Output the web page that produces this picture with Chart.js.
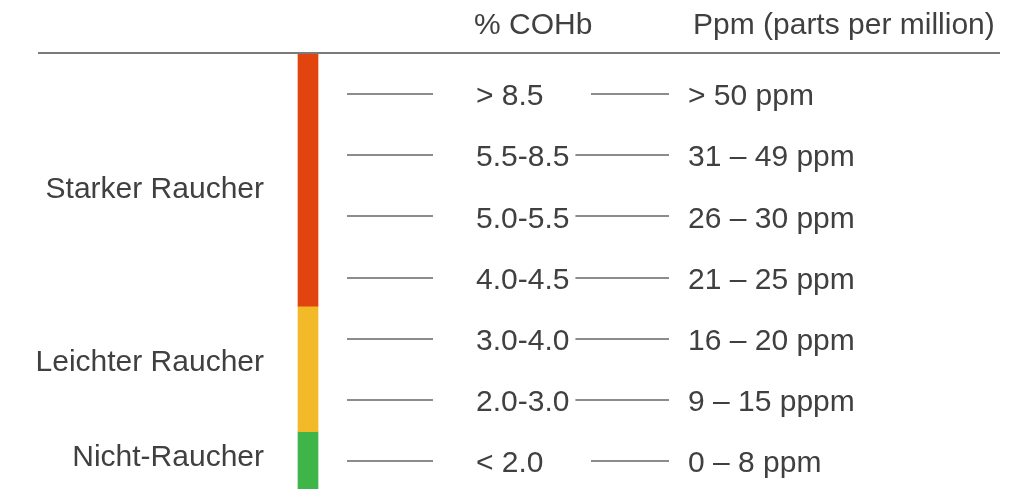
<!DOCTYPE html>
<html>
<head>
<meta charset="utf-8">
<script src="https://cdn.jsdelivr.net/npm/chart.js@4/dist/chart.umd.min.js"></script>
<style>
  html, body { margin: 0; padding: 0; background: #ffffff; }
  #wrap { width: 1029px; height: 489px; }
</style>
</head>
<body>
<div id="wrap"><canvas id="chart" width="1029" height="489"></canvas></div>
<script>
// rows of the table, top to bottom
const cohbLabels = ["> 8.5", "5.5-8.5", "5.0-5.5", "4.0-4.5", "3.0-4.0", "2.0-3.0", "< 2.0"];
const ppmLabels = ["> 50 ppm", "31 – 49 ppm", "26 – 30 ppm", "21 – 25 ppm", "16 – 20 ppm", "9 – 15 pppm", "0 – 8 ppm"];
const headerLabels = ["% COHb", "Ppm (parts per million)"];

// smoker groups and their band on the colour bar (in row units)
const groupLabels = ["Starker Raucher", "Leichter Raucher", "Nicht-Raucher"];
const groupLabelRow = [1.54, 4.37, 5.92];
const bandStart = [-0.69, 3.45, 5.5];
const bandEnd = [3.45, 5.5, 6.45];
const bandColors = ["#e2440f", "#f2b928", "#3fb549"];

// layout (x in page pixels through a linear 0..1029 scale)
const barX = 308;
const groupRight = 264;
const leftLineFrom = 347, leftLineTo = 433;
const cohbX = 476;
const midLineMin = 591, midLineTo = 669;
const ppmX = 688;
const headerRow = -1.13;
const ruleRow = -0.69;
const textColor = "#404040";
const lineColor = "#8c8c8c";
const font = '30px "Liberation Sans", Arial, sans-serif';

const tablePlugin = {
  id: "tableText",
  afterDatasetsDraw(chart) {
    const ctx = chart.ctx;
    const xs = chart.scales.x;
    const ys = chart.scales.y;
    ctx.save();
    ctx.font = font;
    ctx.fillStyle = textColor;
    ctx.textBaseline = "middle";

    // header
    ctx.textAlign = "left";
    ctx.fillText(headerLabels[0], xs.getPixelForValue(cohbX - 2), ys.getPixelForValue(headerRow));
    ctx.fillText(headerLabels[1], xs.getPixelForValue(ppmX + 5), ys.getPixelForValue(headerRow));

    // rule under header
    ctx.strokeStyle = "#7a7a7a";
    ctx.lineWidth = 2;
    ctx.beginPath();
    const ry = Math.round(ys.getPixelForValue(ruleRow));
    ctx.moveTo(xs.getPixelForValue(38), ry);
    ctx.lineTo(xs.getPixelForValue(1000), ry);
    ctx.stroke();

    // rows
    ctx.strokeStyle = lineColor;
    cohbLabels.forEach((lab, i) => {
      const y = ys.getPixelForValue(i);
      const ly = Math.round(y) - 1;
      ctx.beginPath();
      ctx.moveTo(xs.getPixelForValue(leftLineFrom), ly);
      ctx.lineTo(xs.getPixelForValue(leftLineTo), ly);
      ctx.stroke();

      ctx.textAlign = "left";
      const tx = xs.getPixelForValue(cohbX);
      ctx.fillText(lab, tx, y + 2);
      const textEnd = tx + ctx.measureText(lab).width;
      // long labels run right up to the connector line
      const from = textEnd > xs.getPixelForValue(560) ? textEnd + 6 : xs.getPixelForValue(midLineMin);
      ctx.beginPath();
      ctx.moveTo(from, ly);
      ctx.lineTo(xs.getPixelForValue(midLineTo), ly);
      ctx.stroke();

      ctx.fillText(ppmLabels[i], xs.getPixelForValue(ppmX), y + 2);
    });

    // group labels
    ctx.textAlign = "right";
    groupLabels.forEach((lab, i) => {
      ctx.fillText(lab, xs.getPixelForValue(groupRight), ys.getPixelForValue(groupLabelRow[i]));
    });
    ctx.restore();
  }
};

new Chart(document.getElementById("chart"), {
  type: "bar",
  data: {
    datasets: groupLabels.map((g, i) => ({
      label: g,
      data: [{ x: barX, y: [bandStart[i], bandEnd[i]] }],
      backgroundColor: bandColors[i],
      borderWidth: 0,
      barThickness: 20,
      grouped: false
    }))
  },
  options: {
    responsive: false,
    animation: false,
    devicePixelRatio: 1,
    layout: { padding: 0 },
    plugins: { legend: { display: false }, tooltip: { enabled: false } },
    scales: {
      x: { type: "linear", offset: false, min: 0, max: 1029, display: false },
      y: { type: "linear", reverse: true, min: -1.552, max: 6.438, display: false }
    }
  },
  plugins: [tablePlugin]
});
</script>
</body>
</html>
